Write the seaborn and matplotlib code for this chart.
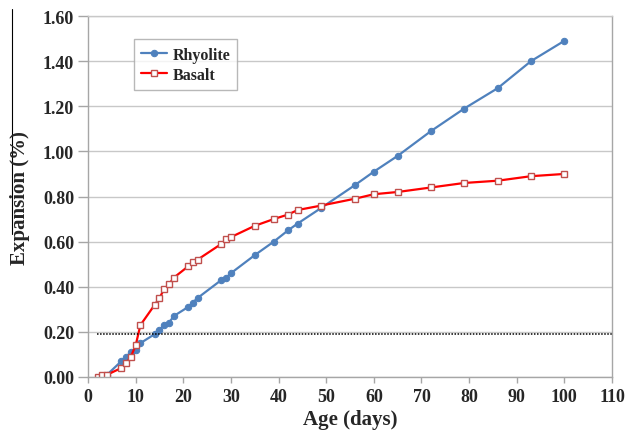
import matplotlib.pyplot as plt
import seaborn as sns
from matplotlib.lines import Line2D

# data
basalt_days = [2, 3, 4, 7, 8, 9, 10, 11, 14, 15, 16, 17, 18, 21, 22, 23, 28, 29, 30,
               35, 39, 42, 44, 49, 56, 60, 65, 72, 79, 86, 93, 100]
basalt_exp = [0.00, 0.01, 0.01, 0.04, 0.06, 0.09, 0.14, 0.23, 0.32, 0.35, 0.39, 0.41,
              0.44, 0.49, 0.51, 0.52, 0.59, 0.61, 0.62, 0.67, 0.70, 0.72, 0.74, 0.76,
              0.79, 0.81, 0.82, 0.84, 0.86, 0.87, 0.89, 0.90]

rhyolite_days = [4, 7, 8, 9, 10, 11, 14, 15, 16, 17, 18, 21, 22, 23, 28, 29, 30,
                 35, 39, 42, 44, 49, 56, 60, 65, 72, 79, 86, 93, 100]
rhyolite_exp = [0.01, 0.07, 0.09, 0.11, 0.12, 0.15, 0.19, 0.21, 0.23, 0.24, 0.27, 0.31,
                0.33, 0.35, 0.43, 0.44, 0.46, 0.54, 0.60, 0.65, 0.68, 0.75, 0.85, 0.91,
                0.98, 1.09, 1.19, 1.28, 1.40, 1.49]

limit_value = 0.19
x_ticks = list(range(0, 111, 10))
y_ticks = [0.0, 0.2, 0.4, 0.6, 0.8, 1.0, 1.2, 1.4, 1.6]

sns.set_theme(style="white")
plt.rcParams["font.family"] = ["Liberation Serif", "DejaVu Serif"]
plt.rcParams["font.weight"] = "bold"

fig = plt.figure(figsize=(6.28, 4.39), dpi=100)
ax = fig.add_axes([88 / 628, 61 / 439, 524 / 628, 361 / 439])

sns.lineplot(x=rhyolite_days, y=rhyolite_exp, ax=ax, color="#4F81BD", linewidth=1.6,
             marker="o", markersize=4.6, markeredgecolor="#4F81BD", label="Rhyolite")
sns.lineplot(x=basalt_days, y=basalt_exp, ax=ax, color="#FF0000", linewidth=1.6,
             marker="s", markersize=4.3, markerfacecolor="white",
             markeredgecolor="#C0504D", markeredgewidth=1.0, label="Basalt")

ax.hlines(limit_value, 1.8, 110, colors="black", linestyles=(0, (1, 1)), linewidth=1.1)

ax.set_xlim(0, 110)
ax.set_ylim(0, 1.6)
ax.set_xticks(x_ticks)
ax.set_yticks(y_ticks)
ax.set_yticklabels([f"{v:.2f}" for v in y_ticks])
ax.grid(axis="y", color="#C8C8C8", linewidth=1)
ax.set_axisbelow(True)
for s in ax.spines.values():
    s.set_color("#A6A6A6")
    s.set_linewidth(1)
ax.spines["top"].set_color("#C8C8C8")
ax.tick_params(axis="y", direction="out", length=7, width=1, color="#A6A6A6",
               pad=3, labelsize=13, left=True)
ax.tick_params(axis="x", direction="out", length=4, width=1, color="#A6A6A6",
               pad=4, labelsize=13, bottom=True)
for lab in ax.get_xticklabels() + ax.get_yticklabels():
    lab.set_fontweight("bold")

ax.set_xlabel("Age (days)", fontsize=15, fontweight="bold", labelpad=3)
ax.set_ylabel("")
fig.text(20 / 628, 1 - 198 / 439, "Expansion (%)", rotation=90, ha="center", va="center",
         fontsize=15, fontweight="bold")
fig.add_artist(Line2D([12 / 628, 12 / 628], [1 - 10 / 439, 1 - 235 / 439],
                      transform=fig.transFigure, color="black", linewidth=0.8))

leg = ax.legend(loc="upper left", bbox_to_anchor=(0.088, 0.935), fancybox=False,
                frameon=True, prop={"weight": "bold", "size": 11.5}, handlelength=1.6,
                borderpad=0.45, labelspacing=0.25, handletextpad=0.35, borderaxespad=0)
leg.get_frame().set_edgecolor("#A6A6A6")
leg.get_frame().set_linewidth(1)

fig.savefig("out.png", dpi=100)
